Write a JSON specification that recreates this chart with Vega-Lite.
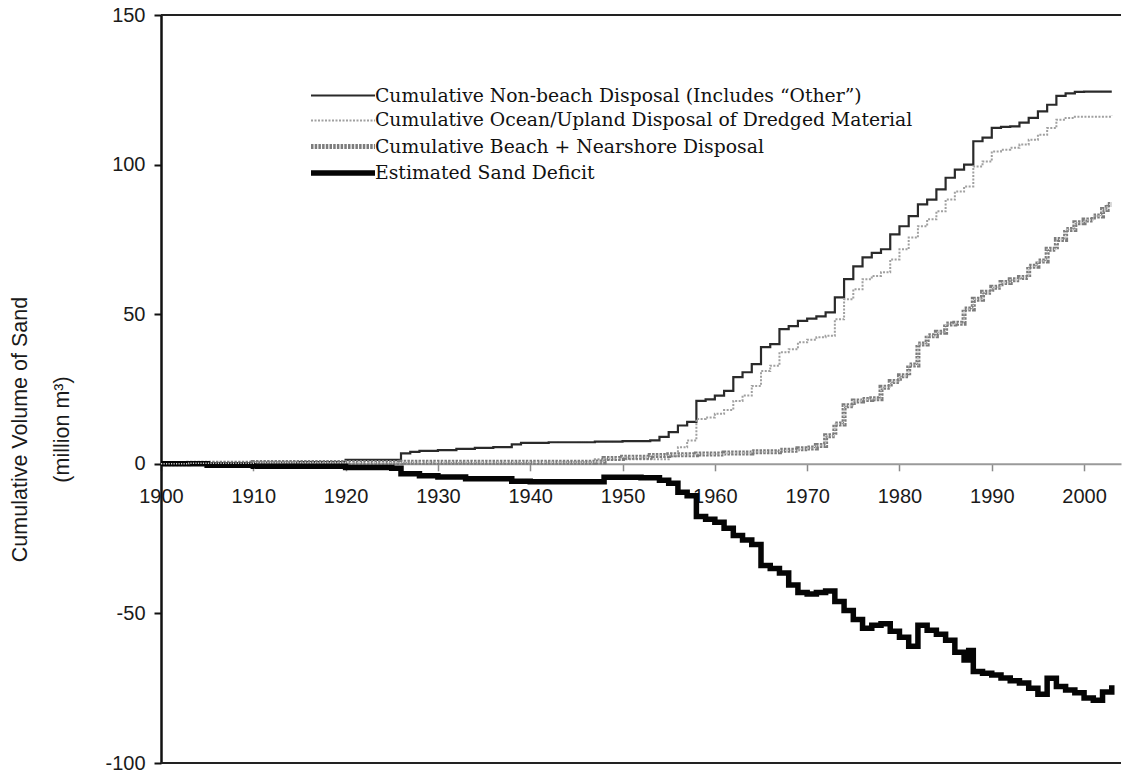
{
  "$schema": "https://vega.github.io/schema/vega-lite/v6.json",
  "width": 960,
  "height": 748,
  "autosize": {"type": "none"},
  "padding": {"left": 161, "top": 15, "right": 3, "bottom": 11},
  "background": "white",
  "config": {"view": {"stroke": null}, "font": "Liberation Sans"},
  "data": {"values": [
        {"series": "Cumulative Non-beach Disposal (Includes “Other”)", "year": 1900, "value": 0},
        {"series": "Cumulative Non-beach Disposal (Includes “Other”)", "year": 1905, "value": 0.2},
        {"series": "Cumulative Non-beach Disposal (Includes “Other”)", "year": 1910, "value": 0.4},
        {"series": "Cumulative Non-beach Disposal (Includes “Other”)", "year": 1915, "value": 0.6},
        {"series": "Cumulative Non-beach Disposal (Includes “Other”)", "year": 1920, "value": 1.3},
        {"series": "Cumulative Non-beach Disposal (Includes “Other”)", "year": 1926, "value": 3.5},
        {"series": "Cumulative Non-beach Disposal (Includes “Other”)", "year": 1927, "value": 4.0},
        {"series": "Cumulative Non-beach Disposal (Includes “Other”)", "year": 1928, "value": 4.3},
        {"series": "Cumulative Non-beach Disposal (Includes “Other”)", "year": 1930, "value": 4.6},
        {"series": "Cumulative Non-beach Disposal (Includes “Other”)", "year": 1932, "value": 5.0},
        {"series": "Cumulative Non-beach Disposal (Includes “Other”)", "year": 1934, "value": 5.3},
        {"series": "Cumulative Non-beach Disposal (Includes “Other”)", "year": 1936, "value": 5.6},
        {"series": "Cumulative Non-beach Disposal (Includes “Other”)", "year": 1938, "value": 6.5},
        {"series": "Cumulative Non-beach Disposal (Includes “Other”)", "year": 1939, "value": 7.0},
        {"series": "Cumulative Non-beach Disposal (Includes “Other”)", "year": 1942, "value": 7.2},
        {"series": "Cumulative Non-beach Disposal (Includes “Other”)", "year": 1947, "value": 7.4},
        {"series": "Cumulative Non-beach Disposal (Includes “Other”)", "year": 1950, "value": 7.6},
        {"series": "Cumulative Non-beach Disposal (Includes “Other”)", "year": 1953, "value": 7.8},
        {"series": "Cumulative Non-beach Disposal (Includes “Other”)", "year": 1954, "value": 9.0},
        {"series": "Cumulative Non-beach Disposal (Includes “Other”)", "year": 1955, "value": 10.6},
        {"series": "Cumulative Non-beach Disposal (Includes “Other”)", "year": 1956, "value": 12.8},
        {"series": "Cumulative Non-beach Disposal (Includes “Other”)", "year": 1957, "value": 14.0},
        {"series": "Cumulative Non-beach Disposal (Includes “Other”)", "year": 1958, "value": 21.0},
        {"series": "Cumulative Non-beach Disposal (Includes “Other”)", "year": 1959, "value": 21.5},
        {"series": "Cumulative Non-beach Disposal (Includes “Other”)", "year": 1960, "value": 22.8},
        {"series": "Cumulative Non-beach Disposal (Includes “Other”)", "year": 1961, "value": 24.4},
        {"series": "Cumulative Non-beach Disposal (Includes “Other”)", "year": 1962, "value": 29.0},
        {"series": "Cumulative Non-beach Disposal (Includes “Other”)", "year": 1963, "value": 30.6},
        {"series": "Cumulative Non-beach Disposal (Includes “Other”)", "year": 1964, "value": 33.3},
        {"series": "Cumulative Non-beach Disposal (Includes “Other”)", "year": 1965, "value": 39.0},
        {"series": "Cumulative Non-beach Disposal (Includes “Other”)", "year": 1966, "value": 40.0},
        {"series": "Cumulative Non-beach Disposal (Includes “Other”)", "year": 1967, "value": 45.0},
        {"series": "Cumulative Non-beach Disposal (Includes “Other”)", "year": 1968, "value": 46.0},
        {"series": "Cumulative Non-beach Disposal (Includes “Other”)", "year": 1969, "value": 47.8},
        {"series": "Cumulative Non-beach Disposal (Includes “Other”)", "year": 1970, "value": 48.5},
        {"series": "Cumulative Non-beach Disposal (Includes “Other”)", "year": 1971, "value": 49.3},
        {"series": "Cumulative Non-beach Disposal (Includes “Other”)", "year": 1972, "value": 50.6},
        {"series": "Cumulative Non-beach Disposal (Includes “Other”)", "year": 1973, "value": 55.6},
        {"series": "Cumulative Non-beach Disposal (Includes “Other”)", "year": 1974, "value": 61.7},
        {"series": "Cumulative Non-beach Disposal (Includes “Other”)", "year": 1975, "value": 66.0},
        {"series": "Cumulative Non-beach Disposal (Includes “Other”)", "year": 1976, "value": 69.0},
        {"series": "Cumulative Non-beach Disposal (Includes “Other”)", "year": 1977, "value": 70.5},
        {"series": "Cumulative Non-beach Disposal (Includes “Other”)", "year": 1978, "value": 71.7},
        {"series": "Cumulative Non-beach Disposal (Includes “Other”)", "year": 1979, "value": 76.7},
        {"series": "Cumulative Non-beach Disposal (Includes “Other”)", "year": 1980, "value": 79.4},
        {"series": "Cumulative Non-beach Disposal (Includes “Other”)", "year": 1981, "value": 82.8},
        {"series": "Cumulative Non-beach Disposal (Includes “Other”)", "year": 1982, "value": 86.7},
        {"series": "Cumulative Non-beach Disposal (Includes “Other”)", "year": 1983, "value": 88.3},
        {"series": "Cumulative Non-beach Disposal (Includes “Other”)", "year": 1984, "value": 91.7},
        {"series": "Cumulative Non-beach Disposal (Includes “Other”)", "year": 1985, "value": 95.6},
        {"series": "Cumulative Non-beach Disposal (Includes “Other”)", "year": 1986, "value": 98.3},
        {"series": "Cumulative Non-beach Disposal (Includes “Other”)", "year": 1987, "value": 100.0},
        {"series": "Cumulative Non-beach Disposal (Includes “Other”)", "year": 1988, "value": 107.8},
        {"series": "Cumulative Non-beach Disposal (Includes “Other”)", "year": 1989, "value": 109.0},
        {"series": "Cumulative Non-beach Disposal (Includes “Other”)", "year": 1990, "value": 112.3},
        {"series": "Cumulative Non-beach Disposal (Includes “Other”)", "year": 1991, "value": 112.6},
        {"series": "Cumulative Non-beach Disposal (Includes “Other”)", "year": 1992, "value": 112.8},
        {"series": "Cumulative Non-beach Disposal (Includes “Other”)", "year": 1993, "value": 114.0},
        {"series": "Cumulative Non-beach Disposal (Includes “Other”)", "year": 1994, "value": 115.6},
        {"series": "Cumulative Non-beach Disposal (Includes “Other”)", "year": 1995, "value": 117.8},
        {"series": "Cumulative Non-beach Disposal (Includes “Other”)", "year": 1996, "value": 120.0},
        {"series": "Cumulative Non-beach Disposal (Includes “Other”)", "year": 1997, "value": 123.0},
        {"series": "Cumulative Non-beach Disposal (Includes “Other”)", "year": 1998, "value": 123.8},
        {"series": "Cumulative Non-beach Disposal (Includes “Other”)", "year": 1999, "value": 124.3},
        {"series": "Cumulative Non-beach Disposal (Includes “Other”)", "year": 2000, "value": 124.4},
        {"series": "Cumulative Non-beach Disposal (Includes “Other”)", "year": 2003, "value": 124.4},

        {"series": "Cumulative Ocean/Upland Disposal of Dredged Material", "year": 1900, "value": 0},
        {"series": "Cumulative Ocean/Upland Disposal of Dredged Material", "year": 1926, "value": 0.3},
        {"series": "Cumulative Ocean/Upland Disposal of Dredged Material", "year": 1940, "value": 0.5},
        {"series": "Cumulative Ocean/Upland Disposal of Dredged Material", "year": 1947, "value": 1.5},
        {"series": "Cumulative Ocean/Upland Disposal of Dredged Material", "year": 1955, "value": 2.5},
        {"series": "Cumulative Ocean/Upland Disposal of Dredged Material", "year": 1956, "value": 5.5},
        {"series": "Cumulative Ocean/Upland Disposal of Dredged Material", "year": 1957, "value": 7.8},
        {"series": "Cumulative Ocean/Upland Disposal of Dredged Material", "year": 1958, "value": 15.0},
        {"series": "Cumulative Ocean/Upland Disposal of Dredged Material", "year": 1959, "value": 15.5},
        {"series": "Cumulative Ocean/Upland Disposal of Dredged Material", "year": 1960, "value": 16.7},
        {"series": "Cumulative Ocean/Upland Disposal of Dredged Material", "year": 1961, "value": 18.0},
        {"series": "Cumulative Ocean/Upland Disposal of Dredged Material", "year": 1962, "value": 21.0},
        {"series": "Cumulative Ocean/Upland Disposal of Dredged Material", "year": 1963, "value": 22.8},
        {"series": "Cumulative Ocean/Upland Disposal of Dredged Material", "year": 1964, "value": 26.0},
        {"series": "Cumulative Ocean/Upland Disposal of Dredged Material", "year": 1965, "value": 31.0},
        {"series": "Cumulative Ocean/Upland Disposal of Dredged Material", "year": 1966, "value": 32.8},
        {"series": "Cumulative Ocean/Upland Disposal of Dredged Material", "year": 1967, "value": 37.3},
        {"series": "Cumulative Ocean/Upland Disposal of Dredged Material", "year": 1968, "value": 38.3},
        {"series": "Cumulative Ocean/Upland Disposal of Dredged Material", "year": 1969, "value": 40.6},
        {"series": "Cumulative Ocean/Upland Disposal of Dredged Material", "year": 1970, "value": 41.5},
        {"series": "Cumulative Ocean/Upland Disposal of Dredged Material", "year": 1971, "value": 42.3},
        {"series": "Cumulative Ocean/Upland Disposal of Dredged Material", "year": 1972, "value": 42.8},
        {"series": "Cumulative Ocean/Upland Disposal of Dredged Material", "year": 1973, "value": 48.3},
        {"series": "Cumulative Ocean/Upland Disposal of Dredged Material", "year": 1974, "value": 55.0},
        {"series": "Cumulative Ocean/Upland Disposal of Dredged Material", "year": 1975, "value": 58.3},
        {"series": "Cumulative Ocean/Upland Disposal of Dredged Material", "year": 1976, "value": 61.7},
        {"series": "Cumulative Ocean/Upland Disposal of Dredged Material", "year": 1977, "value": 62.8},
        {"series": "Cumulative Ocean/Upland Disposal of Dredged Material", "year": 1978, "value": 64.0},
        {"series": "Cumulative Ocean/Upland Disposal of Dredged Material", "year": 1979, "value": 68.3},
        {"series": "Cumulative Ocean/Upland Disposal of Dredged Material", "year": 1980, "value": 71.7},
        {"series": "Cumulative Ocean/Upland Disposal of Dredged Material", "year": 1981, "value": 75.6},
        {"series": "Cumulative Ocean/Upland Disposal of Dredged Material", "year": 1982, "value": 79.4},
        {"series": "Cumulative Ocean/Upland Disposal of Dredged Material", "year": 1983, "value": 81.7},
        {"series": "Cumulative Ocean/Upland Disposal of Dredged Material", "year": 1984, "value": 84.4},
        {"series": "Cumulative Ocean/Upland Disposal of Dredged Material", "year": 1985, "value": 88.3},
        {"series": "Cumulative Ocean/Upland Disposal of Dredged Material", "year": 1986, "value": 91.0},
        {"series": "Cumulative Ocean/Upland Disposal of Dredged Material", "year": 1987, "value": 92.7},
        {"series": "Cumulative Ocean/Upland Disposal of Dredged Material", "year": 1988, "value": 99.4},
        {"series": "Cumulative Ocean/Upland Disposal of Dredged Material", "year": 1989, "value": 101.0},
        {"series": "Cumulative Ocean/Upland Disposal of Dredged Material", "year": 1990, "value": 104.4},
        {"series": "Cumulative Ocean/Upland Disposal of Dredged Material", "year": 1991, "value": 105.0},
        {"series": "Cumulative Ocean/Upland Disposal of Dredged Material", "year": 1992, "value": 105.6},
        {"series": "Cumulative Ocean/Upland Disposal of Dredged Material", "year": 1993, "value": 106.7},
        {"series": "Cumulative Ocean/Upland Disposal of Dredged Material", "year": 1994, "value": 108.3},
        {"series": "Cumulative Ocean/Upland Disposal of Dredged Material", "year": 1995, "value": 110.0},
        {"series": "Cumulative Ocean/Upland Disposal of Dredged Material", "year": 1996, "value": 112.2},
        {"series": "Cumulative Ocean/Upland Disposal of Dredged Material", "year": 1997, "value": 115.0},
        {"series": "Cumulative Ocean/Upland Disposal of Dredged Material", "year": 1998, "value": 115.6},
        {"series": "Cumulative Ocean/Upland Disposal of Dredged Material", "year": 1999, "value": 116.0},
        {"series": "Cumulative Ocean/Upland Disposal of Dredged Material", "year": 2003, "value": 116.3},

        {"series": "Cumulative Beach + Nearshore Disposal", "year": 1900, "value": 0},
        {"series": "Cumulative Beach + Nearshore Disposal", "year": 1903, "value": 0.2},
        {"series": "Cumulative Beach + Nearshore Disposal", "year": 1910, "value": 0.4},
        {"series": "Cumulative Beach + Nearshore Disposal", "year": 1926, "value": 0.5},
        {"series": "Cumulative Beach + Nearshore Disposal", "year": 1947, "value": 0.6},
        {"series": "Cumulative Beach + Nearshore Disposal", "year": 1948, "value": 1.8},
        {"series": "Cumulative Beach + Nearshore Disposal", "year": 1950, "value": 2.2},
        {"series": "Cumulative Beach + Nearshore Disposal", "year": 1953, "value": 2.8},
        {"series": "Cumulative Beach + Nearshore Disposal", "year": 1955, "value": 3.0},
        {"series": "Cumulative Beach + Nearshore Disposal", "year": 1958, "value": 3.3},
        {"series": "Cumulative Beach + Nearshore Disposal", "year": 1961, "value": 3.6},
        {"series": "Cumulative Beach + Nearshore Disposal", "year": 1964, "value": 4.0},
        {"series": "Cumulative Beach + Nearshore Disposal", "year": 1967, "value": 4.5},
        {"series": "Cumulative Beach + Nearshore Disposal", "year": 1969, "value": 5.0},
        {"series": "Cumulative Beach + Nearshore Disposal", "year": 1970, "value": 5.3},
        {"series": "Cumulative Beach + Nearshore Disposal", "year": 1971, "value": 6.1},
        {"series": "Cumulative Beach + Nearshore Disposal", "year": 1972, "value": 9.4},
        {"series": "Cumulative Beach + Nearshore Disposal", "year": 1973, "value": 13.3},
        {"series": "Cumulative Beach + Nearshore Disposal", "year": 1974, "value": 19.4},
        {"series": "Cumulative Beach + Nearshore Disposal", "year": 1975, "value": 21.0},
        {"series": "Cumulative Beach + Nearshore Disposal", "year": 1976, "value": 21.5},
        {"series": "Cumulative Beach + Nearshore Disposal", "year": 1977, "value": 21.7},
        {"series": "Cumulative Beach + Nearshore Disposal", "year": 1978, "value": 25.6},
        {"series": "Cumulative Beach + Nearshore Disposal", "year": 1979, "value": 27.5},
        {"series": "Cumulative Beach + Nearshore Disposal", "year": 1980, "value": 29.4},
        {"series": "Cumulative Beach + Nearshore Disposal", "year": 1981, "value": 33.0},
        {"series": "Cumulative Beach + Nearshore Disposal", "year": 1982, "value": 40.0},
        {"series": "Cumulative Beach + Nearshore Disposal", "year": 1983, "value": 42.8},
        {"series": "Cumulative Beach + Nearshore Disposal", "year": 1984, "value": 44.0},
        {"series": "Cumulative Beach + Nearshore Disposal", "year": 1985, "value": 46.7},
        {"series": "Cumulative Beach + Nearshore Disposal", "year": 1986, "value": 47.0},
        {"series": "Cumulative Beach + Nearshore Disposal", "year": 1987, "value": 51.7},
        {"series": "Cumulative Beach + Nearshore Disposal", "year": 1988, "value": 55.0},
        {"series": "Cumulative Beach + Nearshore Disposal", "year": 1989, "value": 57.3},
        {"series": "Cumulative Beach + Nearshore Disposal", "year": 1990, "value": 59.0},
        {"series": "Cumulative Beach + Nearshore Disposal", "year": 1991, "value": 60.6},
        {"series": "Cumulative Beach + Nearshore Disposal", "year": 1992, "value": 61.5},
        {"series": "Cumulative Beach + Nearshore Disposal", "year": 1993, "value": 62.3},
        {"series": "Cumulative Beach + Nearshore Disposal", "year": 1994, "value": 66.0},
        {"series": "Cumulative Beach + Nearshore Disposal", "year": 1995, "value": 67.8},
        {"series": "Cumulative Beach + Nearshore Disposal", "year": 1996, "value": 71.7},
        {"series": "Cumulative Beach + Nearshore Disposal", "year": 1997, "value": 75.0},
        {"series": "Cumulative Beach + Nearshore Disposal", "year": 1998, "value": 78.3},
        {"series": "Cumulative Beach + Nearshore Disposal", "year": 1999, "value": 80.6},
        {"series": "Cumulative Beach + Nearshore Disposal", "year": 2000, "value": 81.5},
        {"series": "Cumulative Beach + Nearshore Disposal", "year": 2001, "value": 82.8},
        {"series": "Cumulative Beach + Nearshore Disposal", "year": 2002, "value": 85.0},
        {"series": "Cumulative Beach + Nearshore Disposal", "year": 2002.5, "value": 86.7},
        {"series": "Cumulative Beach + Nearshore Disposal", "year": 2003, "value": 86.7},

        {"series": "Estimated Sand Deficit", "year": 1900, "value": 0},
        {"series": "Estimated Sand Deficit", "year": 1905, "value": -0.5},
        {"series": "Estimated Sand Deficit", "year": 1910, "value": -0.8},
        {"series": "Estimated Sand Deficit", "year": 1920, "value": -1.2},
        {"series": "Estimated Sand Deficit", "year": 1925, "value": -1.5},
        {"series": "Estimated Sand Deficit", "year": 1926, "value": -3.3},
        {"series": "Estimated Sand Deficit", "year": 1928, "value": -4.0},
        {"series": "Estimated Sand Deficit", "year": 1930, "value": -4.4},
        {"series": "Estimated Sand Deficit", "year": 1933, "value": -5.0},
        {"series": "Estimated Sand Deficit", "year": 1936, "value": -5.0},
        {"series": "Estimated Sand Deficit", "year": 1938, "value": -5.8},
        {"series": "Estimated Sand Deficit", "year": 1940, "value": -6.0},
        {"series": "Estimated Sand Deficit", "year": 1947, "value": -6.0},
        {"series": "Estimated Sand Deficit", "year": 1948, "value": -4.5},
        {"series": "Estimated Sand Deficit", "year": 1952, "value": -4.7},
        {"series": "Estimated Sand Deficit", "year": 1954, "value": -5.5},
        {"series": "Estimated Sand Deficit", "year": 1955, "value": -6.5},
        {"series": "Estimated Sand Deficit", "year": 1956, "value": -9.5},
        {"series": "Estimated Sand Deficit", "year": 1957, "value": -10.7},
        {"series": "Estimated Sand Deficit", "year": 1958, "value": -17.6},
        {"series": "Estimated Sand Deficit", "year": 1959, "value": -18.5},
        {"series": "Estimated Sand Deficit", "year": 1960, "value": -19.5},
        {"series": "Estimated Sand Deficit", "year": 1961, "value": -21.5},
        {"series": "Estimated Sand Deficit", "year": 1962, "value": -24.0},
        {"series": "Estimated Sand Deficit", "year": 1963, "value": -25.5},
        {"series": "Estimated Sand Deficit", "year": 1964, "value": -27.0},
        {"series": "Estimated Sand Deficit", "year": 1965, "value": -34.0},
        {"series": "Estimated Sand Deficit", "year": 1966, "value": -35.0},
        {"series": "Estimated Sand Deficit", "year": 1967, "value": -36.5},
        {"series": "Estimated Sand Deficit", "year": 1968, "value": -40.5},
        {"series": "Estimated Sand Deficit", "year": 1969, "value": -43.0},
        {"series": "Estimated Sand Deficit", "year": 1970, "value": -43.5},
        {"series": "Estimated Sand Deficit", "year": 1971, "value": -43.0},
        {"series": "Estimated Sand Deficit", "year": 1972, "value": -42.5},
        {"series": "Estimated Sand Deficit", "year": 1973, "value": -46.0},
        {"series": "Estimated Sand Deficit", "year": 1974, "value": -49.0},
        {"series": "Estimated Sand Deficit", "year": 1975, "value": -52.0},
        {"series": "Estimated Sand Deficit", "year": 1976, "value": -55.0},
        {"series": "Estimated Sand Deficit", "year": 1977, "value": -54.0},
        {"series": "Estimated Sand Deficit", "year": 1978, "value": -53.5},
        {"series": "Estimated Sand Deficit", "year": 1979, "value": -56.0},
        {"series": "Estimated Sand Deficit", "year": 1980, "value": -58.0},
        {"series": "Estimated Sand Deficit", "year": 1981, "value": -61.0},
        {"series": "Estimated Sand Deficit", "year": 1982, "value": -54.0},
        {"series": "Estimated Sand Deficit", "year": 1983, "value": -55.6},
        {"series": "Estimated Sand Deficit", "year": 1984, "value": -57.0},
        {"series": "Estimated Sand Deficit", "year": 1985, "value": -59.0},
        {"series": "Estimated Sand Deficit", "year": 1986, "value": -63.0},
        {"series": "Estimated Sand Deficit", "year": 1987, "value": -65.6},
        {"series": "Estimated Sand Deficit", "year": 1987.5, "value": -62.4},
        {"series": "Estimated Sand Deficit", "year": 1988, "value": -69.4},
        {"series": "Estimated Sand Deficit", "year": 1989, "value": -70.0},
        {"series": "Estimated Sand Deficit", "year": 1990, "value": -70.6},
        {"series": "Estimated Sand Deficit", "year": 1991, "value": -71.6},
        {"series": "Estimated Sand Deficit", "year": 1992, "value": -72.5},
        {"series": "Estimated Sand Deficit", "year": 1993, "value": -73.3},
        {"series": "Estimated Sand Deficit", "year": 1994, "value": -75.0},
        {"series": "Estimated Sand Deficit", "year": 1995, "value": -77.0},
        {"series": "Estimated Sand Deficit", "year": 1996, "value": -71.7},
        {"series": "Estimated Sand Deficit", "year": 1997, "value": -74.4},
        {"series": "Estimated Sand Deficit", "year": 1998, "value": -75.6},
        {"series": "Estimated Sand Deficit", "year": 1999, "value": -76.5},
        {"series": "Estimated Sand Deficit", "year": 2000, "value": -78.3},
        {"series": "Estimated Sand Deficit", "year": 2001, "value": -79.0},
        {"series": "Estimated Sand Deficit", "year": 2002, "value": -76.3},
        {"series": "Estimated Sand Deficit", "year": 2003, "value": -74.0}
  ]},
  "layer": [
    {
      "mark": {"type": "line", "interpolate": "step-after", "strokeCap": "butt"},
      "encoding": {
        "x": {
          "field": "year", "type": "quantitative",
          "scale": {"domain": [1900, 2004], "nice": false, "zero": false},
          "axis": {
            "orient": "bottom", "offset": -299.2, "title": null,
            "values": [1900, 1910, 1920, 1930, 1940, 1950, 1960, 1970, 1980, 1990, 2000],
            "format": "d", "grid": false, "labelFlush": false,
            "domainColor": "#9a9a9a", "domainWidth": 2,
            "tickColor": "#8a8a8a", "tickWidth": 1.5, "tickSize": 7,
            "labelFont": "Liberation Sans", "labelFontSize": 20, "labelColor": "#1a1a1a", "labelPadding": 16
          }
        },
        "y": {
          "field": "value", "type": "quantitative",
          "scale": {"domain": [-100, 150], "nice": false, "zero": false},
          "axis": {
            "values": [-100, -50, 0, 50, 100, 150], "grid": false,
            "labelExpr": "'' + datum.value",
            "title": ["Cumulative Volume of Sand", "(million m³)"],
            "titleFont": "Liberation Sans", "titleFontSize": 21.5, "titleFontWeight": "normal", "titleColor": "#1a1a1a",
            "titleLineHeight": 42, "titleAngle": -90, "titleAlign": "center", "titleBaseline": "top",
            "titleX": -152, "titleY": 414,
            "domainColor": "#111", "domainWidth": 2.5,
            "tickColor": "#111", "tickWidth": 2, "tickSize": 7,
            "labelFont": "Liberation Sans", "labelFontSize": 20, "labelColor": "#1a1a1a", "labelPadding": 9
          }
        },
        "color": {
          "field": "series", "type": "nominal",
          "scale": {
            "type": "ordinal",
            "domain": ["Cumulative Non-beach Disposal (Includes “Other”)", "Cumulative Ocean/Upland Disposal of Dredged Material", "Cumulative Beach + Nearshore Disposal", "Estimated Sand Deficit"],
            "range": ["#2a2a2a", "#a0a0a0", "#7c7c7c", "#050505"]
          },
          "legend": {
            "title": null, "orient": "none", "legendX": 171, "legendY": 71,
            "symbolType": "M-4,0H4", "symbolSize": 256,
            "labelFont": "DejaVu Serif", "labelFontSize": 18.8, "labelColor": "#111",
            "labelOffset": 21, "labelLimit": 900, "rowPadding": 5, "padding": 0
          }
        },
        "strokeWidth": {
          "field": "series", "type": "nominal",
          "scale": {
            "type": "ordinal",
            "domain": ["Cumulative Non-beach Disposal (Includes “Other”)", "Cumulative Ocean/Upland Disposal of Dredged Material", "Cumulative Beach + Nearshore Disposal", "Estimated Sand Deficit"],
            "range": [2.2, 2, 5, 5.5]
          },
          "legend": {
            "title": null, "orient": "none", "legendX": 171, "legendY": 71,
            "symbolType": "M-4,0H4", "symbolSize": 256,
            "labelFont": "DejaVu Serif", "labelFontSize": 18.8, "labelColor": "#111",
            "labelOffset": 21, "labelLimit": 900, "rowPadding": 5, "padding": 0
          }
        },
        "strokeDash": {
          "field": "series", "type": "nominal",
          "scale": {
            "type": "ordinal",
            "domain": ["Cumulative Non-beach Disposal (Includes “Other”)", "Cumulative Ocean/Upland Disposal of Dredged Material", "Cumulative Beach + Nearshore Disposal", "Estimated Sand Deficit"],
            "range": [[1, 0], [2, 1.5], [2.5, 1.2], [1, 0]]
          },
          "legend": {
            "title": null, "orient": "none", "legendX": 171, "legendY": 71,
            "symbolType": "M-4,0H4", "symbolSize": 256,
            "labelFont": "DejaVu Serif", "labelFontSize": 18.8, "labelColor": "#111",
            "labelOffset": 21, "labelLimit": 900, "rowPadding": 5, "padding": 0
          }
        }
      }
    },
    {
      "transform": [{"filter": "datum.series === 'Cumulative Beach + Nearshore Disposal'"}],
      "mark": {"type": "line", "interpolate": "step-after", "strokeCap": "butt", "color": "#d4d4d4", "strokeWidth": 1.4, "strokeDash": [1.2, 1.3]},
      "encoding": {
        "x": {"field": "year", "type": "quantitative"},
        "y": {"field": "value", "type": "quantitative"}
      }
    },
    {
      "data": {"values": [{}]},
      "mark": {"type": "rule", "color": "#222", "strokeWidth": 2},
      "encoding": {"y": {"datum": 150, "type": "quantitative"}}
    },
    {
      "data": {"values": [{}]},
      "mark": {"type": "rule", "color": "#222", "strokeWidth": 2},
      "encoding": {"y": {"datum": -100, "type": "quantitative"}}
    }
  ]
}
